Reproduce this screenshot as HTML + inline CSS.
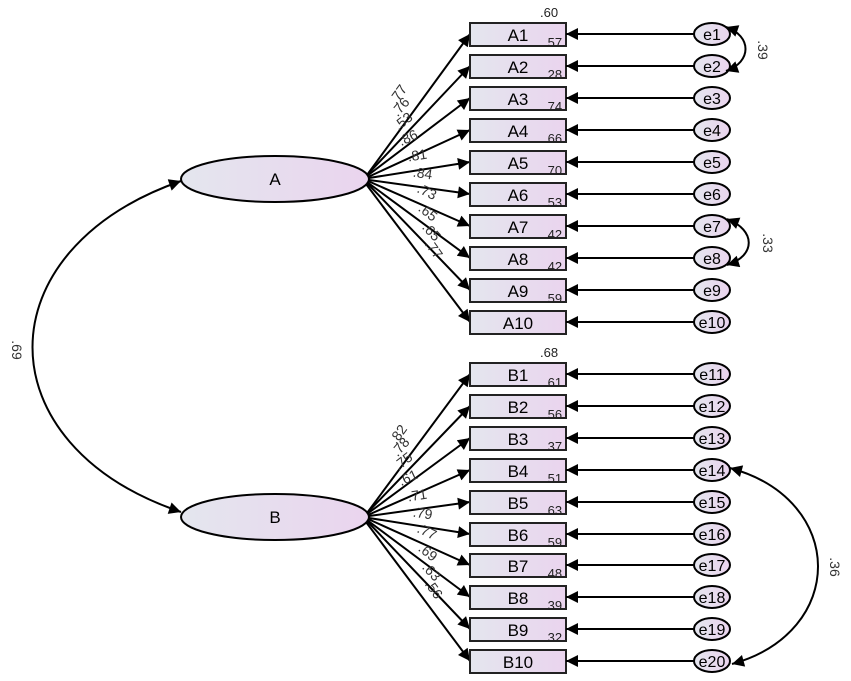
<!DOCTYPE html>
<html><head><meta charset="utf-8"><style>
html,body{margin:0;padding:0;background:#fff;}
svg{display:block;font-family:"Liberation Sans",Arial,sans-serif;}
.bx{fill:url(#g);stroke:#222;stroke-width:2}
.ln{stroke:#000;stroke-width:2;fill:none}
.t{font-size:17px;text-anchor:middle}
.e{font-size:16px;text-anchor:middle}
.s{font-size:13px;fill:#222}
.l{font-size:14px;fill:#333;text-anchor:middle}
</style></head><body>
<svg width="851" height="681" viewBox="0 0 851 681" xmlns="http://www.w3.org/2000/svg">
<defs>
<linearGradient id="g" x1="0" x2="1" y1="0" y2="0"><stop offset="0" stop-color="#e4e6ee"/><stop offset="1" stop-color="#ead4ee"/></linearGradient>
<marker id="ar" viewBox="0 0 10 10" refX="10" refY="5" markerWidth="18" markerHeight="12" markerUnits="userSpaceOnUse" orient="auto"><path d="M0,0L10,5L0,10z" fill="#000"/></marker>
<marker id="ars" viewBox="0 0 10 10" refX="0" refY="5" markerWidth="18" markerHeight="12" markerUnits="userSpaceOnUse" orient="auto"><path d="M10,0L0,5L10,10z" fill="#000"/></marker>
</defs>

<path class="ln" d="M181,181 C-17,250 -17,445 181,512" marker-start="url(#ars)" marker-end="url(#ar)"/>
<text class="l" transform="translate(12,350) rotate(90)">.69</text>

<ellipse cx="275" cy="179" rx="94" ry="23" fill="url(#g)" stroke="#000" stroke-width="2"/>
<text class="t" x="275" y="185">A</text>
<ellipse cx="275" cy="517" rx="94" ry="23" fill="url(#g)" stroke="#000" stroke-width="2"/>
<text class="t" x="275" y="523">B</text>

<g class="ln" marker-end="url(#ar)">
<line x1="367" y1="175" x2="470" y2="34"/>
<line x1="367" y1="175" x2="470" y2="66"/>
<line x1="367" y1="176" x2="470" y2="98"/>
<line x1="368" y1="177" x2="470" y2="130"/>
<line x1="369" y1="178" x2="470" y2="162"/>
<line x1="369" y1="180" x2="470" y2="194"/>
<line x1="368" y1="181" x2="470" y2="226"/>
<line x1="367" y1="182" x2="470" y2="258"/>
<line x1="367" y1="183" x2="470" y2="290"/>
<line x1="366" y1="184" x2="470" y2="322"/>
</g>
<g class="ln" marker-end="url(#ar)">
<line x1="367" y1="513" x2="470" y2="374"/>
<line x1="367" y1="513" x2="470" y2="406"/>
<line x1="367" y1="514" x2="470" y2="438"/>
<line x1="368" y1="515" x2="470" y2="470"/>
<line x1="369" y1="516" x2="470" y2="502"/>
<line x1="369" y1="518" x2="470" y2="534"/>
<line x1="368" y1="519" x2="470" y2="565"/>
<line x1="367" y1="520" x2="470" y2="597"/>
<line x1="367" y1="521" x2="470" y2="629"/>
<line x1="366" y1="522" x2="470" y2="661"/>
</g>

<text class="l" transform="translate(402,97) rotate(-54)">.77</text>
<text class="l" transform="translate(404,110) rotate(-49)">.76</text>
<text class="l" transform="translate(406,125) rotate(-38)">.53</text>
<text class="l" transform="translate(410,142) rotate(-25)">.86</text>
<text class="l" transform="translate(418,160) rotate(-9)">.81</text>
<text class="l" transform="translate(422,178) rotate(9)">.84</text>
<text class="l" transform="translate(425,196) rotate(25)">.73</text>
<text class="l" transform="translate(425,216) rotate(38)">.65</text>
<text class="l" transform="translate(428,235) rotate(47)">.65</text>
<text class="l" transform="translate(430,252) rotate(54)">.77</text>
<text class="l" transform="translate(402,437) rotate(-54)">.82</text>
<text class="l" transform="translate(404,450) rotate(-49)">.78</text>
<text class="l" transform="translate(406,465) rotate(-38)">.75</text>
<text class="l" transform="translate(410,482) rotate(-25)">.61</text>
<text class="l" transform="translate(418,500) rotate(-9)">.71</text>
<text class="l" transform="translate(422,518) rotate(9)">.79</text>
<text class="l" transform="translate(425,536) rotate(25)">.77</text>
<text class="l" transform="translate(425,556) rotate(38)">.69</text>
<text class="l" transform="translate(428,575) rotate(47)">.63</text>
<text class="l" transform="translate(430,592) rotate(54)">.56</text>

<rect class="bx" x="470" y="23" width="96" height="23"/><text class="t" x="518" y="41">A1</text>
<rect class="bx" x="470" y="55" width="96" height="23"/><text class="t" x="518" y="73">A2</text>
<rect class="bx" x="470" y="87" width="96" height="23"/><text class="t" x="518" y="105">A3</text>
<rect class="bx" x="470" y="119" width="96" height="23"/><text class="t" x="518" y="137">A4</text>
<rect class="bx" x="470" y="151" width="96" height="23"/><text class="t" x="518" y="169">A5</text>
<rect class="bx" x="470" y="183" width="96" height="23"/><text class="t" x="518" y="201">A6</text>
<rect class="bx" x="470" y="215" width="96" height="23"/><text class="t" x="518" y="233">A7</text>
<rect class="bx" x="470" y="247" width="96" height="23"/><text class="t" x="518" y="265">A8</text>
<rect class="bx" x="470" y="279" width="96" height="23"/><text class="t" x="518" y="297">A9</text>
<rect class="bx" x="470" y="311" width="96" height="23"/><text class="t" x="518" y="329">A10</text>
<rect class="bx" x="470" y="363" width="96" height="23"/><text class="t" x="518" y="381">B1</text>
<rect class="bx" x="470" y="395" width="96" height="23"/><text class="t" x="518" y="413">B2</text>
<rect class="bx" x="470" y="427" width="96" height="23"/><text class="t" x="518" y="445">B3</text>
<rect class="bx" x="470" y="459" width="96" height="23"/><text class="t" x="518" y="477">B4</text>
<rect class="bx" x="470" y="491" width="96" height="23"/><text class="t" x="518" y="509">B5</text>
<rect class="bx" x="470" y="523" width="96" height="23"/><text class="t" x="518" y="541">B6</text>
<rect class="bx" x="470" y="554" width="96" height="23"/><text class="t" x="518" y="572">B7</text>
<rect class="bx" x="470" y="586" width="96" height="23"/><text class="t" x="518" y="604">B8</text>
<rect class="bx" x="470" y="618" width="96" height="23"/><text class="t" x="518" y="636">B9</text>
<rect class="bx" x="470" y="650" width="96" height="23"/><text class="t" x="518" y="668">B10</text>

<g class="s">
<text x="540" y="17">.60</text>
<text x="544" y="47">.57</text><text x="544" y="79">.28</text><text x="544" y="111">.74</text><text x="544" y="143">.66</text><text x="544" y="175">.70</text><text x="544" y="207">.53</text><text x="544" y="239">.42</text><text x="544" y="271">.42</text><text x="544" y="303">.59</text>
<text x="540" y="357">.68</text>
<text x="544" y="387">.61</text><text x="544" y="419">.56</text><text x="544" y="451">.37</text><text x="544" y="483">.51</text><text x="544" y="515">.63</text><text x="544" y="547">.59</text><text x="544" y="578">.48</text><text x="544" y="610">.39</text><text x="544" y="642">.32</text>
</g>

<g class="ln" marker-end="url(#ar)">
<line x1="694" y1="34" x2="566" y2="34"/><line x1="694" y1="66" x2="566" y2="66"/><line x1="694" y1="98" x2="566" y2="98"/><line x1="694" y1="130" x2="566" y2="130"/><line x1="694" y1="162" x2="566" y2="162"/><line x1="694" y1="194" x2="566" y2="194"/><line x1="694" y1="226" x2="566" y2="226"/><line x1="694" y1="258" x2="566" y2="258"/><line x1="694" y1="290" x2="566" y2="290"/><line x1="694" y1="322" x2="566" y2="322"/>
<line x1="694" y1="374" x2="566" y2="374"/><line x1="694" y1="406" x2="566" y2="406"/><line x1="694" y1="438" x2="566" y2="438"/><line x1="694" y1="470" x2="566" y2="470"/><line x1="694" y1="502" x2="566" y2="502"/><line x1="694" y1="534" x2="566" y2="534"/><line x1="694" y1="565" x2="566" y2="565"/><line x1="694" y1="597" x2="566" y2="597"/><line x1="694" y1="629" x2="566" y2="629"/><line x1="694" y1="661" x2="566" y2="661"/>
</g>

<g fill="url(#g)" stroke="#000" stroke-width="2">
<ellipse cx="712" cy="34" rx="18" ry="11"/><ellipse cx="712" cy="66" rx="18" ry="11"/><ellipse cx="712" cy="98" rx="18" ry="11"/><ellipse cx="712" cy="130" rx="18" ry="11"/><ellipse cx="712" cy="162" rx="18" ry="11"/><ellipse cx="712" cy="194" rx="18" ry="11"/><ellipse cx="712" cy="226" rx="18" ry="11"/><ellipse cx="712" cy="258" rx="18" ry="11"/><ellipse cx="712" cy="290" rx="18" ry="11"/><ellipse cx="712" cy="322" rx="18" ry="11"/>
<ellipse cx="712" cy="374" rx="18" ry="11"/><ellipse cx="712" cy="406" rx="18" ry="11"/><ellipse cx="712" cy="438" rx="18" ry="11"/><ellipse cx="712" cy="470" rx="18" ry="11"/><ellipse cx="712" cy="502" rx="18" ry="11"/><ellipse cx="712" cy="534" rx="18" ry="11"/><ellipse cx="712" cy="565" rx="18" ry="11"/><ellipse cx="712" cy="597" rx="18" ry="11"/><ellipse cx="712" cy="629" rx="18" ry="11"/><ellipse cx="712" cy="661" rx="18" ry="11"/>
</g>
<g class="e">
<text x="712" y="40">e1</text><text x="712" y="72">e2</text><text x="712" y="104">e3</text><text x="712" y="136">e4</text><text x="712" y="168">e5</text><text x="712" y="200">e6</text><text x="712" y="232">e7</text><text x="712" y="264">e8</text><text x="712" y="296">e9</text><text x="712" y="328">e10</text>
<text x="712" y="380">e11</text><text x="712" y="412">e12</text><text x="712" y="444">e13</text><text x="712" y="476">e14</text><text x="712" y="508">e15</text><text x="712" y="540">e16</text><text x="712" y="571">e17</text><text x="712" y="603">e18</text><text x="712" y="635">e19</text><text x="712" y="667">e20</text>
</g>

<path class="ln" d="M726,27 C752,36 752,62 726,71" marker-start="url(#ars)" marker-end="url(#ar)"/>
<text class="l" transform="translate(758,50) rotate(90)">.39</text>
<path class="ln" d="M727,219 C756,230 756,256 727,265" marker-start="url(#ars)" marker-end="url(#ar)"/>
<text class="l" transform="translate(763,243) rotate(90)">.33</text>
<path class="ln" d="M730,468 C847,500 847,632 732,664" marker-start="url(#ars)" marker-end="url(#ar)"/>
<text class="l" transform="translate(830,567) rotate(90)">.36</text>
</svg>
</body></html>
